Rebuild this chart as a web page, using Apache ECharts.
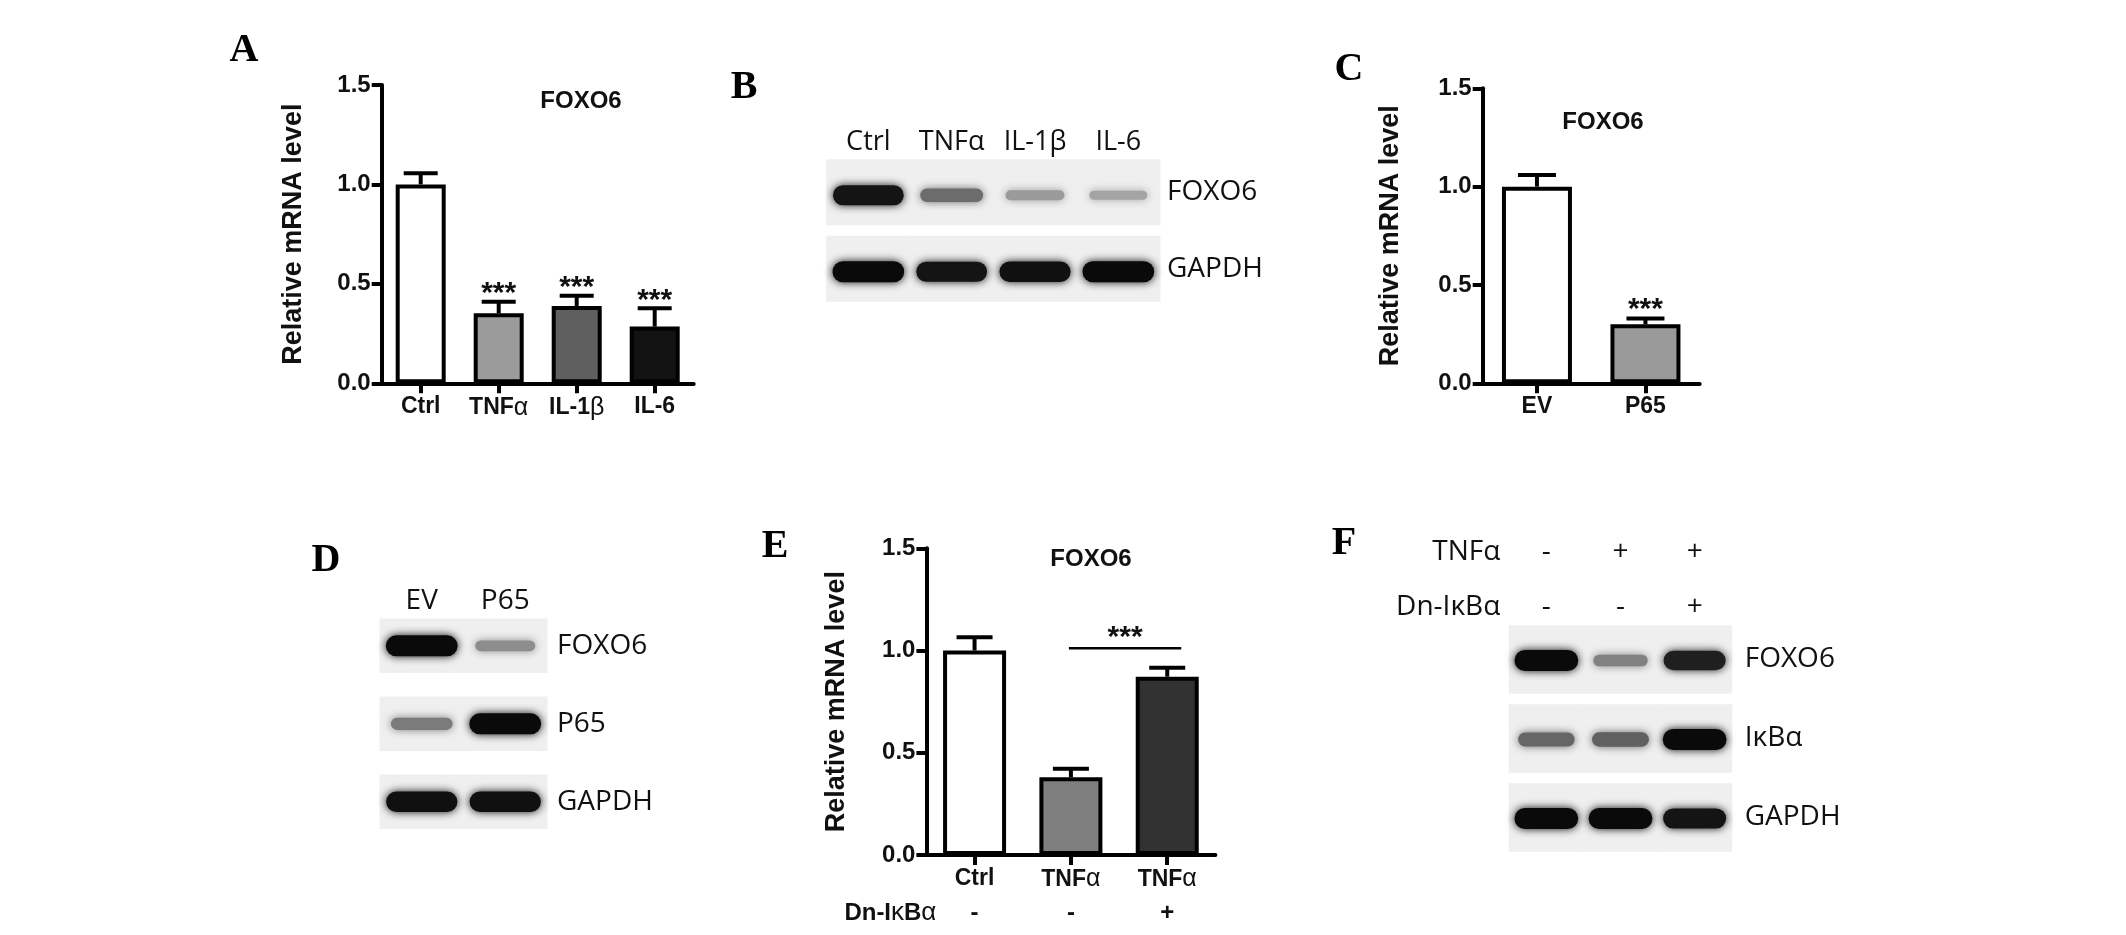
<!DOCTYPE html>
<html>
<head>
<meta charset="utf-8">
<script src="https://cdn.jsdelivr.net/npm/echarts@6/dist/echarts.min.js"></script>
<style>
html,body{margin:0;padding:0;background:#ffffff;}
#chart{width:2126px;height:935px;}
</style>
</head>
<body>
<div id="chart"></div>
<script>
// ---------------- DATA ----------------
const yTicks = [0.0, 0.5, 1.0, 1.5];

// Panel A: qPCR FOXO6 after cytokines
const A_categories = ['Ctrl', 'TNFα', 'IL-1β', 'IL-6'];
const A_means = [1.00, 0.352, 0.389, 0.285];
const A_sem = [0.056, 0.058, 0.051, 0.092];
const A_stars = ['', '***', '***', '***'];

// Panel C: qPCR FOXO6 EV vs P65
const C_categories = ['EV', 'P65'];
const C_means = [1.00, 0.300];
const C_sem = [0.059, 0.030];
const C_stars = ['', '***'];

// Panel E: qPCR FOXO6 with Dn-IkBa
const E_categories = ['Ctrl', 'TNFα', 'TNFα'];
const E_dnIkBa = ['-', '-', '+'];
const E_means = [1.00, 0.380, 0.872];
const E_sem = [0.065, 0.042, 0.044];
const E_comparison = [1, 2];
const E_comparisonLevel = 1.011;
const E_comparisonStars = '***';

// Panel B: western blot band intensities (0..1)
const B_lanes = ['Ctrl', 'TNFα', 'IL-1β', 'IL-6'];
const B_proteins = ['FOXO6', 'GAPDH'];
const B_FOXO6 = [0.95, 0.52, 0.30, 0.25];
const B_GAPDH = [1.00, 0.95, 0.97, 1.00];

// Panel D
const D_lanes = ['EV', 'P65'];
const D_proteins = ['FOXO6', 'P65', 'GAPDH'];
const D_FOXO6 = [1.00, 0.36];
const D_P65 = [0.45, 1.00];
const D_GAPDH = [0.97, 0.97];

// Panel F
const F_TNFa = ['-', '+', '+'];
const F_DnIkBa = ['-', '-', '+'];
const F_proteins = ['FOXO6', 'IκBα', 'GAPDH'];
const F_FOXO6 = [1.00, 0.42, 0.90];
const F_IkBa = [0.55, 0.58, 1.00];
const F_GAPDH = [1.00, 1.00, 0.95];

// ---------------- STYLES ----------------
const A_colors = ['#ffffff', '#9b9b9b', '#5f5f5f', '#121212'];
const C_colors = ['#ffffff', '#9a9a9a'];
const E_colors = ['#ffffff', '#7f7f7f', '#323232'];

const SANS = "'Liberation Sans', Arial, Helvetica, sans-serif";
const BLOT = "'Open Sans', 'Noto Sans', sans-serif";
const SERIF = "'Liberation Serif', 'Times New Roman', serif";
const INK = '#111111';

function greek(s) { return String(s).replace(/([αβκ])/g, '{g|$1}'); }
function greekRich(size) {
  return { g: { fontFamily: SANS, fontWeight: 'normal', fontSize: size, color: INK } };
}

const grids = [], xAxis = [], yAxis = [], series = [];
function addGrid(g) {
  grids.push(Object.assign({ containLabel: false, outerBoundsMode: 'none' }, g));
  return grids.length - 1;
}

// ---------------- BAR PANELS ----------------
function barPanel(box, cats, means, sem, stars, colors, cfg) {
  const gi = addGrid(box);
  const xi = xAxis.length, yi = yAxis.length;
  xAxis.push({
    type: 'category', gridIndex: gi, data: cats, position: 'bottom',
    axisLine: { show: true, lineStyle: { color: '#000', width: 4 } },
    axisTick: { show: true, alignWithLabel: true, length: 10, lineStyle: { color: '#000', width: 4 } },
    axisLabel: {
      interval: 0, margin: 12, fontFamily: SANS, fontWeight: 'bold', fontSize: 23, color: INK,
      formatter: v => greek(v), rich: greekRich(25)
    },
    splitLine: { show: false }
  });
  yAxis.push({
    type: 'value', gridIndex: gi,
    min: yTicks[0], max: yTicks[yTicks.length - 1], interval: yTicks[1] - yTicks[0],
    axisLine: { show: true, lineStyle: { color: '#000', width: 4 } },
    axisTick: { show: true, length: 10, lineStyle: { color: '#000', width: 4 } },
    axisLabel: { margin: 11, fontFamily: SANS, fontWeight: 'bold', fontSize: 24, color: INK,
      formatter: v => v.toFixed(1) },
    splitLine: { show: false },
    name: 'Relative mRNA level', nameLocation: 'middle', nameGap: cfg.nameGap,
    nameTextStyle: { fontFamily: SANS, fontWeight: 'bold', fontSize: 27, color: INK }
  });
  series.push({
    type: 'bar', xAxisIndex: xi, yAxisIndex: yi, barWidth: cfg.barWidth,
    data: means.map((m, i) => ({ value: m, itemStyle: { color: colors[i] } })),
    itemStyle: { borderColor: '#000', borderWidth: 4 },
    z: 2, silent: true
  });
  series.push({
    type: 'custom', xAxisIndex: xi, yAxisIndex: yi, z: 3, silent: true,
    data: means.map((m, i) => [i, m, m + sem[i]]),
    encode: { x: 0, y: [1, 2] },
    renderItem: function (params, api) {
      const i = api.value(0);
      const p0 = api.coord([i, api.value(1)]);
      const p1 = api.coord([i, api.value(2)]);
      const ch = [
        { type: 'line', shape: { x1: p0[0], y1: p0[1], x2: p1[0], y2: p1[1] }, style: { stroke: '#000', lineWidth: 4 } },
        { type: 'line', shape: { x1: p1[0] - cfg.cap / 2, y1: p1[1], x2: p1[0] + cfg.cap / 2, y2: p1[1] }, style: { stroke: '#000', lineWidth: 4 } }
      ];
      const st = stars[params.dataIndex];
      if (st) {
        ch.push({ type: 'text', x: p1[0], y: p1[1] - cfg.starGap,
          style: { text: st, fontFamily: SANS, fontWeight: 'bold', fontSize: 30, fill: INK, align: 'center', verticalAlign: 'middle' } });
      }
      return { type: 'group', children: ch };
    }
  });
  return { gi, xi, yi };
}

const pA = barPanel({ left: 381.7, top: 85, width: 312, height: 298.3 },
  A_categories, A_means, A_sem, A_stars, A_colors, { barWidth: 50, cap: 34, starGap: 8, nameGap: 75 });
const pC = barPanel({ left: 1482.7, top: 88.3, width: 217, height: 295 },
  C_categories, C_means, C_sem, C_stars, C_colors, { barWidth: 70, cap: 38, starGap: 9, nameGap: 79 });
const pE = barPanel({ left: 926.4, top: 548.3, width: 289, height: 306.7 },
  E_categories, E_means, E_sem, ['', '', ''], E_colors, { barWidth: 63, cap: 36, starGap: 0, nameGap: 76 });

// E: Dn-IkBa row under categories
xAxis.push({
  type: 'category', gridIndex: pE.gi, data: E_dnIkBa, position: 'bottom', offset: 58,
  axisLine: { show: false }, axisTick: { show: false },
  axisLabel: { interval: 0, margin: -12, fontFamily: SANS, fontWeight: 'bold', fontSize: 24, color: INK },
  name: greek('Dn-IκBα'), nameLocation: 'start', nameGap: -10,
  nameTextStyle: { fontFamily: SANS, fontWeight: 'bold', fontSize: 24, color: INK, rich: greekRich(26) }
});
// E: significance bracket
series.push({
  type: 'custom', xAxisIndex: pE.xi, yAxisIndex: pE.yi, z: 3, silent: true,
  data: [[E_comparison[0], E_comparison[1], E_comparisonLevel]],
  encode: { x: [0, 1], y: 2 },
  renderItem: function (params, api) {
    const a = api.coord([api.value(0), api.value(2)]);
    const b = api.coord([api.value(1), api.value(2)]);
    const x1 = a[0] - 2, x2 = b[0] + 14;
    return { type: 'group', children: [
      { type: 'line', shape: { x1: x1, y1: a[1], x2: x2, y2: a[1] }, style: { stroke: '#000', lineWidth: 2.5 } },
      { type: 'text', x: (x1 + x2) / 2, y: a[1] - 11,
        style: { text: E_comparisonStars, fontFamily: SANS, fontWeight: 'bold', fontSize: 30, fill: INK, align: 'center', verticalAlign: 'middle' } }
    ] };
  }
});

// ---------------- BLOT PANELS ----------------
function blotPanel(box, lanes, proteins, rows, cfg) {
  const gi = addGrid(box);
  const xi = xAxis.length, yi = yAxis.length;
  xAxis.push({
    type: 'category', gridIndex: gi, data: lanes, position: 'top', offset: cfg.laneOffset || 0,
    axisLine: { show: false }, axisTick: { show: false },
    axisLabel: { show: true, interval: 0, margin: cfg.laneMargin, fontFamily: BLOT, fontSize: cfg.fs, color: INK },
    name: cfg.laneName || '', nameLocation: 'start', nameGap: cfg.nameGap || 0,
    nameTextStyle: { fontFamily: BLOT, fontSize: cfg.fs, color: INK }
  });
  yAxis.push({
    type: 'category', gridIndex: gi, data: proteins, inverse: true, position: 'right',
    axisLine: { show: false }, axisTick: { show: false },
    axisLabel: { margin: cfg.rowMargin, fontFamily: BLOT, fontSize: cfg.rowFs, color: INK, interval: 0 }
  });
  const data = [];
  rows.forEach((r, ri) => r.forEach((s, li) => data.push([li, ri, s])));
  // blot membrane background
  series.push({
    type: 'custom', xAxisIndex: xi, yAxisIndex: yi, z: 1, silent: true, data: data,
    encode: { x: 0, y: 1 },
    renderItem: function (params, api) {
      const c = api.coord([api.value(0), api.value(1)]);
      const sz = api.size([1, 1]);
      const bh = sz[1] * cfg.boxFrac;
      return { type: 'rect', shape: { x: c[0] - sz[0] / 2 - 0.5, y: c[1] - bh / 2, width: sz[0] + 1, height: bh },
        style: { fill: '#efefef' } };
    }
  });
  // bands
  series.push({
    type: 'custom', xAxisIndex: xi, yAxisIndex: yi, z: 2, silent: true, data: data,
    encode: { x: 0, y: 1 },
    renderItem: function (params, api) {
      const s = api.value(2);
      const c = api.coord([api.value(0), api.value(1)]);
      const sz = api.size([1, 1]);
      const w = sz[0] * (0.64 + 0.22 * s);
      const h = 5 + 16 * s;
      const g = Math.round(215 - 205 * s);
      const col = 'rgb(' + g + ',' + g + ',' + g + ')';
      return { type: 'rect', shape: { x: c[0] - w / 2, y: c[1] + cfg.dy - h / 2, width: w, height: h, r: h / 2 },
        style: { fill: col, shadowBlur: 8, shadowColor: col } };
    }
  });
  return { gi, xi, yi };
}

blotPanel({ left: 826.7, top: 154, width: 333.3, height: 153 }, B_lanes, B_proteins, [B_FOXO6, B_GAPDH],
  { boxFrac: 0.86, dy: 3, fs: 27, rowFs: 28, laneMargin: -2, rowMargin: 7 });
blotPanel({ left: 380, top: 606.8, width: 167, height: 234 }, D_lanes, D_proteins, [D_FOXO6, D_P65, D_GAPDH],
  { boxFrac: 0.7, dy: 0, fs: 28, rowFs: 28, laneMargin: -8, rowMargin: 10 });
const pF = blotPanel({ left: 1509.3, top: 620, width: 222.4, height: 237 }, F_TNFa, F_proteins, [F_FOXO6, F_IkBa, F_GAPDH],
  { boxFrac: 0.87, dy: 1, fs: 28, rowFs: 28, laneMargin: -14, rowMargin: 13, laneOffset: 68.3, laneName: 'TNFα', nameGap: 9 });
xAxis.push({
  type: 'category', gridIndex: pF.gi, data: F_DnIkBa, position: 'top', offset: 13.3,
  axisLine: { show: false }, axisTick: { show: false },
  axisLabel: { show: true, interval: 0, margin: -14, fontFamily: BLOT, fontSize: 28, color: INK },
  name: 'Dn-IκBα', nameLocation: 'start', nameGap: 9,
  nameTextStyle: { fontFamily: BLOT, fontSize: 28, color: INK }
});

// ---------------- TEXT GRAPHICS ----------------
function letter(t, x, y) {
  return { type: 'text', x: x, y: y, silent: true,
    style: { text: t, fontFamily: SERIF, fontWeight: 'bold', fontSize: 40, fill: '#000', align: 'center', verticalAlign: 'middle' } };
}
function gtitle(t, x, y) {
  return { type: 'text', x: x, y: y, silent: true,
    style: { text: t, fontFamily: SANS, fontWeight: 'bold', fontSize: 24, fill: INK, align: 'center', verticalAlign: 'middle' } };
}

const option = {
  backgroundColor: '#ffffff',
  animation: false,
  grid: grids,
  xAxis: xAxis,
  yAxis: yAxis,
  series: series,
  graphic: [
    letter('A', 244, 51), letter('B', 744, 88), letter('C', 1349, 70),
    letter('D', 326, 561), letter('E', 775, 547), letter('F', 1344, 544),
    gtitle('FOXO6', 581, 101), gtitle('FOXO6', 1603, 122), gtitle('FOXO6', 1091, 559)
  ]
};

const chart = echarts.init(document.getElementById('chart'), null, { renderer: 'canvas' });
chart.setOption(option);
</script>
</body>
</html>
